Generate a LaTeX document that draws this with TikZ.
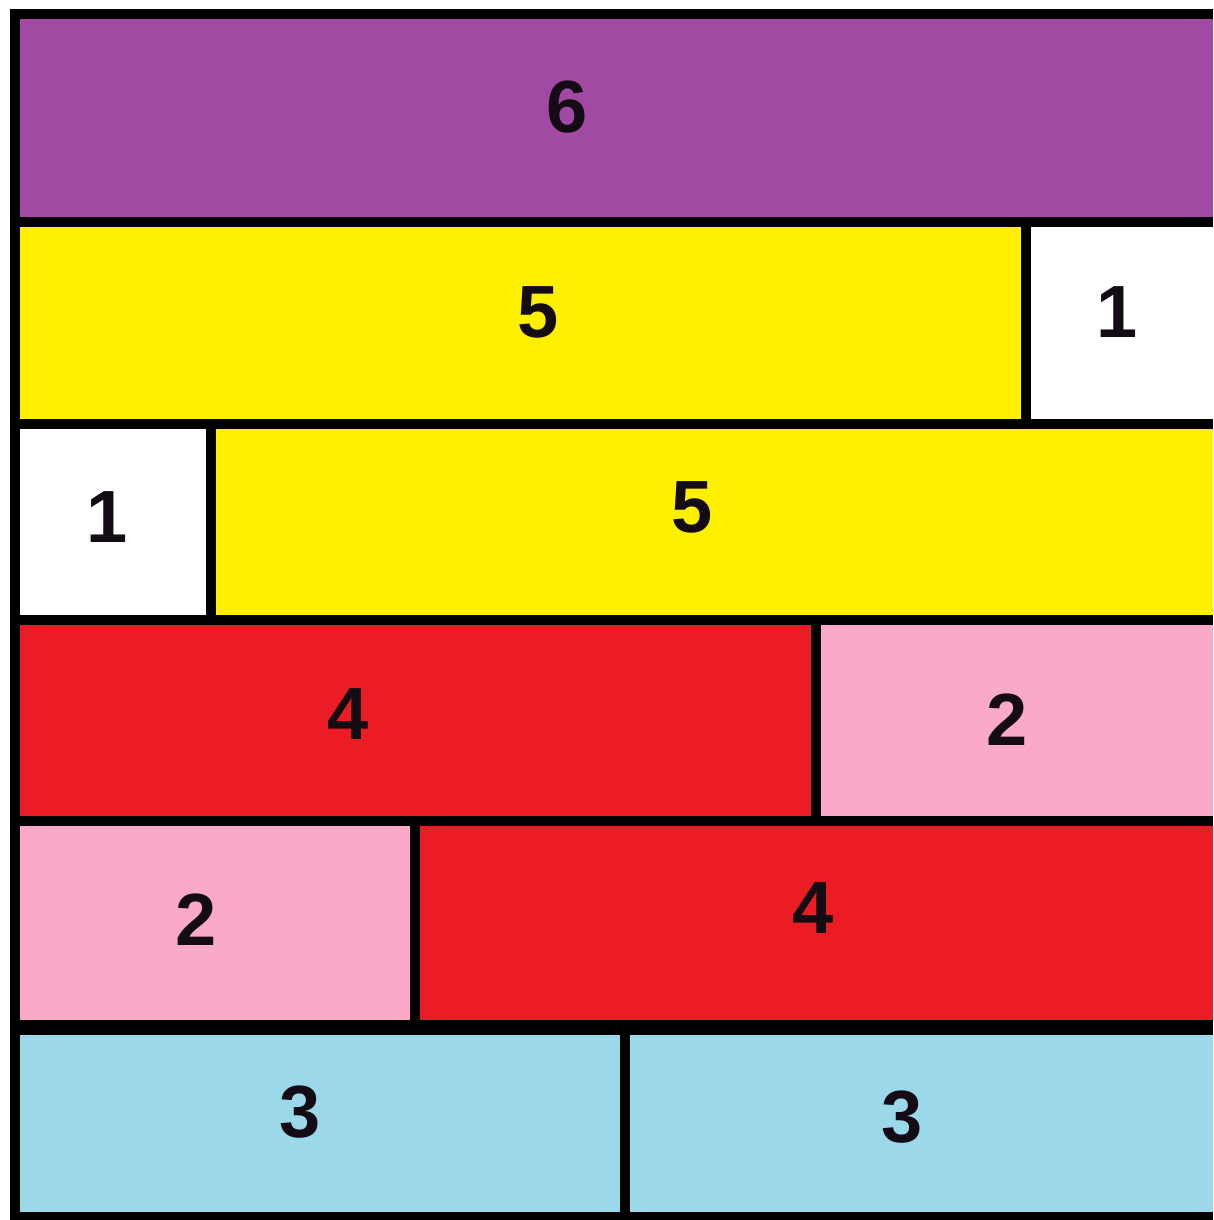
\documentclass[tikz,border=0pt]{standalone}
\usepackage{fontspec}
\setmainfont{Liberation Sans}
\definecolor{cpurple}{RGB}{160,74,163}
\definecolor{cyellow}{RGB}{255,240,0}
\definecolor{cred}{RGB}{236,28,36}
\definecolor{cpink}{RGB}{250,170,200}
\definecolor{cblue}{RGB}{155,216,233}
\definecolor{cink}{RGB}{20,12,20}
\tikzset{
  lbl/.style={inner sep=0pt, text=cink, font=\fontsize{74}{80}\selectfont\bfseries},
  band/.style={line width=10pt, draw=black},
}
\begin{document}
\begin{tikzpicture}[x=1pt,y=-1pt]
\useasboundingbox (0,0) rectangle (1213,1220);
% cells
\fill[cpurple] (15,14) rectangle (1213,222);
\fill[cyellow] (15,222) rectangle (1026,424);
\fill[white]   (1026,222) rectangle (1213,424);
\fill[white]   (15,424) rectangle (211,620);
\fill[cyellow] (211,424) rectangle (1213,620);
\fill[cred]    (15,620) rectangle (816,821);
\fill[cpink]   (816,620) rectangle (1213,821);
\fill[cpink]   (15,821) rectangle (415,1027);
\fill[cred]    (415,821) rectangle (1213,1027);
\fill[cblue]   (15,1027) rectangle (625,1217);
\fill[cblue]   (625,1027) rectangle (1213,1217);
% coordinates for bands
\coordinate (t0l) at (10,14);   \coordinate (t0r) at (1213,14);
\coordinate (t1l) at (10,222);  \coordinate (t1r) at (1213,222);
\coordinate (t2l) at (10,424);  \coordinate (t2r) at (1213,424);
\coordinate (t3l) at (10,620);  \coordinate (t3r) at (1213,620);
\coordinate (t4l) at (10,821);  \coordinate (t4r) at (1213,821);
\coordinate (t5l) at (10,1027); \coordinate (t5r) at (1213,1027);
\coordinate (t6l) at (10,1217); \coordinate (t6r) at (1213,1217);
\coordinate (lt) at (15,9);     \coordinate (lb) at (15,1222);
\draw[band] (t0l) -- (t0r);
\draw[band] (t1l) -- (t1r);
\draw[band] (t2l) -- (t2r);
\draw[band] (t3l) -- (t3r);
\draw[band] (t4l) -- (t4r);
\draw[band, line width=15pt] (t5l) -- (t5r);
\draw[band] (t6l) -- (t6r);
\draw[band] (lt) -- (lb);
% vertical dividers
\coordinate (v2a) at (1026,222); \coordinate (v2b) at (1026,424);
\coordinate (v3a) at (211,424);  \coordinate (v3b) at (211,620);
\coordinate (v4a) at (816,620);  \coordinate (v4b) at (816,821);
\coordinate (v5a) at (415,821);  \coordinate (v5b) at (415,1027);
\coordinate (v6a) at (625,1027); \coordinate (v6b) at (625,1217);
\draw[band] (v2a) -- (v2b);
\draw[band] (v3a) -- (v3b);
\draw[band] (v4a) -- (v4b);
\draw[band] (v5a) -- (v5b);
\draw[band] (v6a) -- (v6b);
% labels
\node[lbl] (n6)  at (567,107)  {6};
\node[lbl] (n5a) at (538,312)  {5};
\node[lbl] (n1a) at (1117,312) {1};
\node[lbl] (n1b) at (107,517)  {1};
\node[lbl] (n5b) at (692,507)  {5};
\node[lbl] (n4a) at (348,714)  {4};
\node[lbl] (n2a) at (1007,720) {2};
\node[lbl] (n2b) at (196,920)  {2};
\node[lbl] (n4b) at (813,908)  {4};
\node[lbl] (n3a) at (300,1112) {3};
\node[lbl] (n3b) at (902,1117) {3};
\end{tikzpicture}
\end{document}
